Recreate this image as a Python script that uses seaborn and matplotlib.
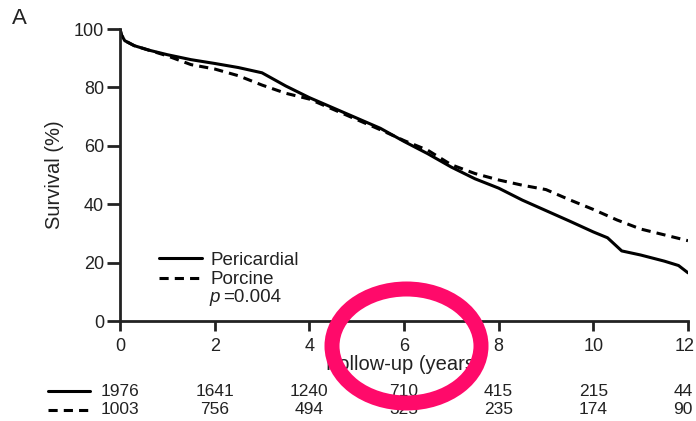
import matplotlib
matplotlib.use("Agg")
import matplotlib.pyplot as plt
import seaborn as sns
import pandas as pd
import matplotlib.transforms as mtransforms
from matplotlib.lines import Line2D
from matplotlib.patches import Ellipse

# ---- data ----
peri_t = [0, 0.03, 0.1, 0.3, 0.6, 1.0, 1.5, 2.0, 2.5, 3.0, 3.5, 4.0, 4.5, 5.0, 5.5,
          6.0, 6.5, 7.0, 7.5, 8.0, 8.5, 9.0, 9.5, 10.0, 10.3, 10.6, 11.0, 11.5, 11.8, 12.0]
peri_s = [100, 98, 96, 94.3, 92.8, 91.2, 89.5, 88.2, 86.8, 85, 80.5, 76.5, 73, 69.5, 66,
          61.5, 57.3, 52.7, 48.7, 45.5, 41.4, 37.8, 34.2, 30.5, 28.5, 24.0, 22.6, 20.5, 19, 16.5]
porc_t = [0, 0.03, 0.1, 0.3, 0.6, 1.0, 1.5, 2.0, 2.5, 3.0, 3.5, 4.0, 4.5, 5.0, 5.5,
          6.0, 6.5, 7.0, 7.5, 8.0, 8.5, 9.0, 9.5, 10.0, 10.5, 11.0, 11.5, 12.0]
porc_s = [100, 98, 96, 94.3, 92.8, 90.8, 87.8, 86.3, 84, 80.8, 78, 76, 72.5, 69, 65.5,
          61.8, 58.5, 53.5, 50.5, 48.3, 46.5, 45, 41.5, 38.2, 34.6, 31.5, 29.5, 27.5]
series_names = ["Pericardial", "Porcine"]
risk_years = [0, 2, 4, 6, 8, 10, 12]
peri_n = [1976, 1641, 1240, 710, 415, 215, 44]
porc_n = [1003, 756, 494, 325, 235, 174, 90]
x_ticks = [0, 2, 4, 6, 8, 10, 12]
y_ticks = [0, 20, 40, 60, 80, 100]

df = pd.concat([
    pd.DataFrame({"t": peri_t, "s": peri_s, "group": series_names[0]}),
    pd.DataFrame({"t": porc_t, "s": porc_s, "group": series_names[1]}),
])

sns.set_theme(style="ticks")
plt.rcParams["font.family"] = ["Liberation Sans", "DejaVu Sans"]
TXT = "#222222"

fig = plt.figure(figsize=(6.96, 4.21), dpi=100)
ax = fig.add_axes([120/696, 1-321/421, 568/696, 292/421])

sns.lineplot(data=df, x="t", y="s", style="group", hue="group",
             palette={series_names[0]: "black", series_names[1]: "black"},
             dashes={series_names[0]: "", series_names[1]: (3, 2)},
             linewidth=2.2, ax=ax, legend=False, estimator=None, sort=False)

ax.set_xlim(0, 12)
ax.set_ylim(0, 100)
ax.set_xticks(x_ticks)
ax.set_yticks(y_ticks)
ax.tick_params(axis="both", labelsize=13, width=2, color=TXT, labelcolor=TXT)
ax.tick_params(axis="x", pad=5, length=7.5)
ax.tick_params(axis="y", pad=2, length=9.5)
for side in ["top", "right"]:
    ax.spines[side].set_visible(False)
for side in ["left", "bottom"]:
    ax.spines[side].set_linewidth(2)
    ax.spines[side].set_color(TXT)
ax.set_facecolor("white")

ax.set_xlabel("Follow-up (years)", fontsize=14.5, color=TXT, labelpad=0)
ax.set_ylabel("Survival (%)", fontsize=14.5, color=TXT, labelpad=7)

# nudge the last x tick label so it stays inside the figure
last_lab = ax.xaxis.get_major_ticks()[-1].label1
last_lab.set_transform(last_lab.get_transform()
                       + mtransforms.ScaledTranslation(-3/100, 0, fig.dpi_scale_trans))

handles = [Line2D([], [], color="black", lw=2.2),
           Line2D([], [], color="black", lw=2.2, dashes=(3, 2))]
leg = ax.legend(handles, series_names, loc="lower left", bbox_to_anchor=(0.068, 0.112),
                frameon=False, fontsize=13.5, handlelength=2.3, handletextpad=0.45,
                labelspacing=0.12, borderpad=0, borderaxespad=0)
for t in leg.get_texts():
    t.set_color(TXT)
ax.text(0.158, 0.082, "p", transform=ax.transAxes, fontsize=13.5, style="italic",
        color=TXT, va="center", ha="left")
ax.text(0.181, 0.082, "=0.004", transform=ax.transAxes, fontsize=13.5,
        color=TXT, va="center", ha="left")

fig.text(12/696, 1-18/421, "A", fontsize=16, color=TXT, va="center", ha="left")

# risk table
trans = mtransforms.blended_transform_factory(ax.transData, fig.transFigure)
trans_last = mtransforms.offset_copy(trans, fig=fig, x=-5, units="dots")
row_y = [1-391/421, 1-410/421]
for yy, counts in zip(row_y, [peri_n, porc_n]):
    for i, (xv, n) in enumerate(zip(risk_years, counts)):
        last = i == len(risk_years) - 1
        ax.text(xv, yy, str(n), transform=trans_last if last else trans,
                fontsize=12.5, ha="center", va="center", color=TXT, clip_on=False)
fig.add_artist(Line2D([48/696, 90/696], [row_y[0], row_y[0]], color="black", lw=2.2))
fig.add_artist(Line2D([48/696, 90/696], [row_y[1], row_y[1]], color="black", lw=2.2,
                      dashes=(3, 2)))

# pink annotation ellipse
fig.add_artist(Ellipse((406.5/696, 1-346/421), 149/696, 114/421, fill=False,
                       edgecolor="#ff0a6a", lw=10.8, transform=fig.transFigure))

fig.savefig("out.png", dpi=100, facecolor="white")
